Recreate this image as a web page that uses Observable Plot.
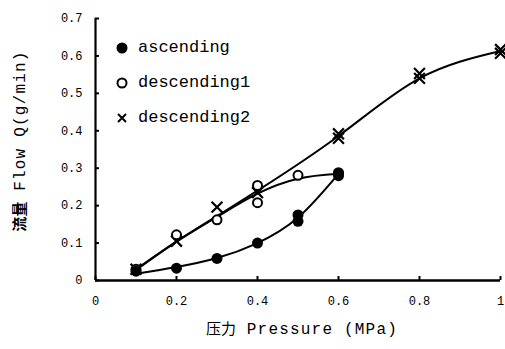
<!DOCTYPE html>
<html>
<head>
<meta charset="utf-8">
<script src="https://cdn.jsdelivr.net/npm/d3@7"></script>
<script src="https://cdn.jsdelivr.net/npm/@observablehq/plot@0.6"></script>
<style>
  body { margin: 0; background: #fff; }
  #wrap { position: relative; width: 505px; height: 349px; }
  #legend { position: absolute; left: 115px; top: 30px; font-family: "Liberation Mono", monospace; font-size: 17px; color: #000; }
  #legend div { display: flex; align-items: center; height: 35px; }
  #legend svg { margin-right: 9px; }
</style>
</head>
<body>
<div id="wrap"></div>
<script>
// Data
const ascendingX = [0.1, 0.2, 0.3, 0.4, 0.5, 0.5, 0.6, 0.6];
const ascendingY = [0.025, 0.033, 0.059, 0.100, 0.158, 0.175, 0.280, 0.288];

const descending1X = [0.1, 0.2, 0.3, 0.4, 0.4, 0.5, 0.6];
const descending1Y = [0.030, 0.122, 0.162, 0.254, 0.208, 0.281, 0.285];

const descending2X = [0.1, 0.2, 0.3, 0.4, 0.6, 0.6, 0.8, 0.8, 1.0, 1.0];
const descending2Y = [0.030, 0.105, 0.196, 0.235, 0.392, 0.380, 0.553, 0.540, 0.617, 0.607];

// Trend curves
const trendAscX = [0.1, 0.2, 0.3, 0.4, 0.5, 0.6];
const trendAscY = [0.018, 0.036, 0.060, 0.100, 0.168, 0.285];
const trendD1X = [0.1, 0.2, 0.3, 0.4, 0.5, 0.6];
const trendD1Y = [0.028, 0.104, 0.170, 0.232, 0.272, 0.285];
const trendD2X = [0.1, 0.2, 0.3, 0.4, 0.6, 0.8, 1.0];
const trendD2Y = [0.030, 0.104, 0.172, 0.240, 0.386, 0.540, 0.613];

const xTicks = [0, 0.2, 0.4, 0.6, 0.8, 1];
const xTickLabels = ["0", "0.2", "0.4", "0.6", "0.8", "1"];
const yTicks = [0, 0.1, 0.2, 0.3, 0.4, 0.5, 0.6, 0.7];
const yTickLabels = ["0", "0.1", "0.2", "0.3", "0.4", "0.5", "0.6", "0.7"];

const seriesNames = ["ascending", "descending1", "descending2"];
const xLabelCJK = "压力";
const xLabelLatin = "Pressure (MPa)";
const yLabelCJK = "流量";
const yLabelLatin = "Flow Q(g/min)";

const zip = (xs, ys) => xs.map((x, i) => ({x, y: ys[i]}));
const asc = zip(ascendingX, ascendingY);
const d1 = zip(descending1X, descending1Y);
const d2 = zip(descending2X, descending2Y);
const tAsc = zip(trendAscX, trendAscY);
const tD1 = zip(trendD1X, trendD1Y);
const tD2 = zip(trendD2X, trendD2Y);

const mono = "Liberation Mono, DejaVu Sans Mono, monospace";

const chart = Plot.plot({
  width: 505,
  height: 349,
  marginLeft: 95,
  marginRight: 5,
  marginTop: 18,
  marginBottom: 69,
  style: {fontFamily: mono, fontSize: "12px", background: "#fff", color: "#000"},
  x: {domain: [0, 1]},
  y: {domain: [0, 0.7]},
  marks: [
    Plot.axisX({ticks: xTicks, tickFormat: (d) => xTickLabels[xTicks.findIndex(t => Math.abs(t - d) < 1e-9)], tickSize: -4, tickPadding: 20, label: null, strokeWidth: 2}),
    Plot.axisY({ticks: yTicks, tickFormat: (d) => yTickLabels[yTicks.findIndex(t => Math.abs(t - d) < 1e-9)], tickSize: -4, tickPadding: 17, label: null, strokeWidth: 2}),
    Plot.ruleX([0], {strokeWidth: 2.2}),
    Plot.ruleY([0], {strokeWidth: 2.5}),
    Plot.line(tAsc, {x: "x", y: "y", curve: "natural", strokeWidth: 2}),
    Plot.line(tD1, {x: "x", y: "y", curve: "natural", strokeWidth: 2}),
    Plot.line(tD2, {x: "x", y: "y", curve: "natural", strokeWidth: 2}),
    Plot.dot(d2, {x: "x", y: "y", symbol: "times", r: 5, stroke: "#000", strokeWidth: 2.2}),
    Plot.dot(d1, {x: "x", y: "y", symbol: "circle", r: 4.5, stroke: "#000", fill: "#fff", strokeWidth: 2}),
    Plot.dot(asc, {x: "x", y: "y", symbol: "circle", r: 5.5, fill: "#000", stroke: "none"})
  ]
});

const wrap = document.getElementById("wrap");
wrap.appendChild(chart);

// Axis titles
const svg = d3.select(chart);
const xt = svg.append("text")
  .attr("x", 302).attr("y", 334)
  .attr("text-anchor", "middle")
  .attr("fill", "#000")
  .style("font-family", mono).style("font-size", "16px").style("letter-spacing", "1.2px");
xt.append("tspan").text(xLabelCJK).style("font-family", "Noto Sans CJK SC").style("font-size", "15px").style("letter-spacing", "0px");
xt.append("tspan").text(" " + xLabelLatin);

const yt = svg.append("text")
  .attr("transform", "translate(25,141) rotate(-90)")
  .attr("text-anchor", "middle")
  .attr("fill", "#000")
  .style("font-family", mono).style("font-size", "16px").style("letter-spacing", "1.2px");
yt.append("tspan").text(yLabelCJK).style("font-family", "Noto Sans CJK SC").style("font-size", "15px").style("font-weight", "bold").style("letter-spacing", "0px");
yt.append("tspan").text(" " + yLabelLatin);

// Legend
const legend = document.createElement("div");
legend.id = "legend";
const symbols = [
  '<circle cx="7" cy="7" r="5.5" fill="#000"/>',
  '<circle cx="7" cy="7" r="4.5" fill="#fff" stroke="#000" stroke-width="2"/>',
  '<path d="M3 3L11 11M11 3L3 11" stroke="#000" stroke-width="2"/>'
];
seriesNames.forEach((name, i) => {
  const row = document.createElement("div");
  row.innerHTML = `<svg width="14" height="14">${symbols[i]}</svg><span>${name}</span>`;
  legend.appendChild(row);
});
wrap.appendChild(legend);
</script>
</body>
</html>
